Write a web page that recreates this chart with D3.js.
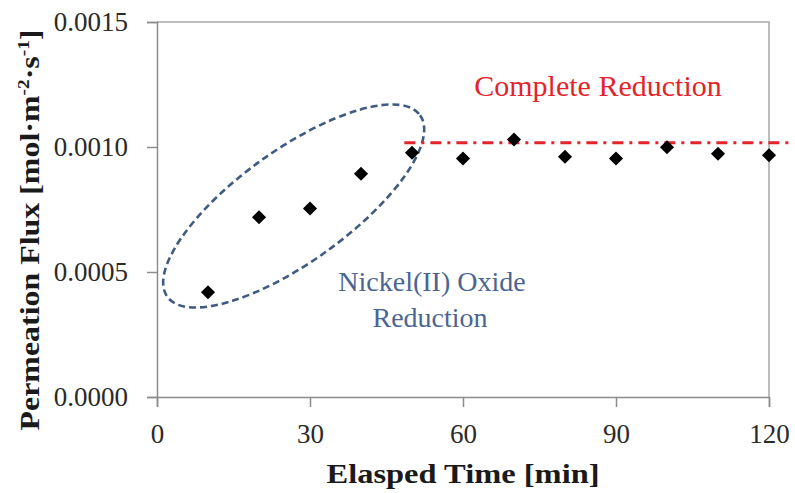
<!DOCTYPE html>
<html>
<head>
<meta charset="utf-8">
<script src="https://cdn.jsdelivr.net/npm/d3@7"></script>
<style>
  body { margin: 0; background: #fff; }
  svg { display: block; }
</style>
</head>
<body>
<div id="chart"></div>
<script>
// data
var timeMin = [10, 20, 30, 40, 50, 60, 70, 80, 90, 100, 110, 120];
var flux = [0.000419, 0.000719, 0.000754, 0.000893, 0.000977, 0.000954,
            0.00103, 0.000961, 0.000954, 0.000999, 0.000973, 0.000967];
var xTicks = [0, 30, 60, 90, 120];
var yTicks = [0, 0.0005, 0.0010, 0.0015];
var completeLevel = 0.001017;
var completeSpan = [48.5, 124];
var ellipseCenter = [26.8, 0.000764];

var w = 795, h = 493;
var margin = {top: 22, right: 26, bottom: 96, left: 157};

var svg = d3.select("#chart")
  .append("svg")
  .attr("width", w)
  .attr("height", h);

svg.append("rect").attr("width", w).attr("height", h).attr("fill", "#fff");

var x = d3.scaleLinear().domain([0, 120]).range([margin.left, w - margin.right]);
var y = d3.scaleLinear().domain([0, 0.0015]).range([h - margin.bottom, margin.top]);

var serif = "'Liberation Serif', 'Times New Roman', serif";

// frame (top + right)
svg.append("path")
  .attr("d", "M" + x(0) + "," + y(0.0015) + "H" + x(120) + "V" + y(0))
  .attr("fill", "none")
  .attr("stroke", "#a8a8a8")
  .attr("stroke-width", 1.5);

// x axis
var xAxis = svg.append("g")
  .attr("transform", "translate(0," + y(0) + ")")
  .call(d3.axisBottom(x).tickValues(xTicks).tickSize(10).tickPadding(10)
    .tickFormat(d3.format("d")));

// y axis
var yAxis = svg.append("g")
  .attr("transform", "translate(" + x(0) + ",0)")
  .call(d3.axisLeft(y).tickValues(yTicks).tickSize(10).tickPadding(19)
    .tickFormat(d3.format(".4f")));

[xAxis, yAxis].forEach(function(g) {
  g.select(".domain").attr("stroke", "#8c8c8c").attr("stroke-width", 1.5);
  g.selectAll(".tick line").attr("stroke", "#8c8c8c").attr("stroke-width", 1.5);
  g.selectAll(".tick text")
    .attr("font-family", serif)
    .attr("font-size", "27px")
    .attr("fill", "#2a2a2a");
});
xAxis.selectAll(".tick text").attr("dy", "0.95em");

// annotation ellipse
svg.append("ellipse")
  .attr("cx", 0).attr("cy", 0)
  .attr("rx", 155.6).attr("ry", 56)
  .attr("transform", "translate(" + x(ellipseCenter[0]) + "," + y(ellipseCenter[1]) + ") rotate(-35.7)")
  .attr("fill", "none")
  .attr("stroke", "#3f5b82")
  .attr("stroke-width", 2.6)
  .attr("stroke-dasharray", "7,4");

// complete reduction line
svg.append("line")
  .attr("x1", x(completeSpan[0])).attr("x2", x(completeSpan[1]))
  .attr("y1", y(completeLevel)).attr("y2", y(completeLevel))
  .attr("stroke", "#e3242b")
  .attr("stroke-width", 2.8)
  .attr("stroke-dasharray", "11,6,3,6");

// points
svg.selectAll(".pt")
  .data(timeMin)
  .enter()
  .append("path")
  .attr("class", "pt")
  .attr("d", d3.symbol().type(d3.symbolSquare).size(100))
  .attr("transform", function(d, i) {
    return "translate(" + x(d) + "," + y(flux[i]) + ") rotate(45)";
  })
  .attr("fill", "#000");

// annotation texts
svg.append("text")
  .text("Complete Reduction")
  .attr("x", 598).attr("y", 96)
  .attr("text-anchor", "middle")
  .attr("font-family", serif)
  .attr("font-size", "30px")
  .attr("fill", "#e3242b");

var nick = svg.append("text")
  .attr("text-anchor", "middle")
  .attr("font-family", serif)
  .attr("font-size", "28px")
  .attr("fill", "#4a6592");
nick.append("tspan").attr("x", 432).attr("y", 291).text("Nickel(II) Oxide");
nick.append("tspan").attr("x", 430).attr("y", 327).text("Reduction");

// axis titles (garamond-ish width via horizontal stretch)
svg.append("text")
  .text("Elasped Time [min]")
  .attr("transform", "translate(" + ((x(0) + x(120)) / 2) + ",483) scale(1.16,1)")
  .attr("text-anchor", "middle")
  .attr("font-family", serif)
  .attr("font-weight", "bold")
  .attr("font-size", "28px")
  .attr("fill", "#1a1a1a");

var yt = svg.append("text")
  .attr("transform", "translate(39,230) rotate(-90) scale(1.14,1)")
  .attr("text-anchor", "middle")
  .attr("font-family", serif)
  .attr("font-weight", "bold")
  .attr("font-size", "28px")
  .attr("fill", "#1a1a1a");
yt.append("tspan").text("Permeation Flux [mol\u00b7m");
yt.append("tspan").attr("font-size", "17px").attr("dy", "-10").text("-2");
yt.append("tspan").attr("dy", "10").text("\u00b7s");
yt.append("tspan").attr("font-size", "17px").attr("dy", "-10").text("-1");
yt.append("tspan").attr("dy", "10").text("]");
</script>
</body>
</html>
